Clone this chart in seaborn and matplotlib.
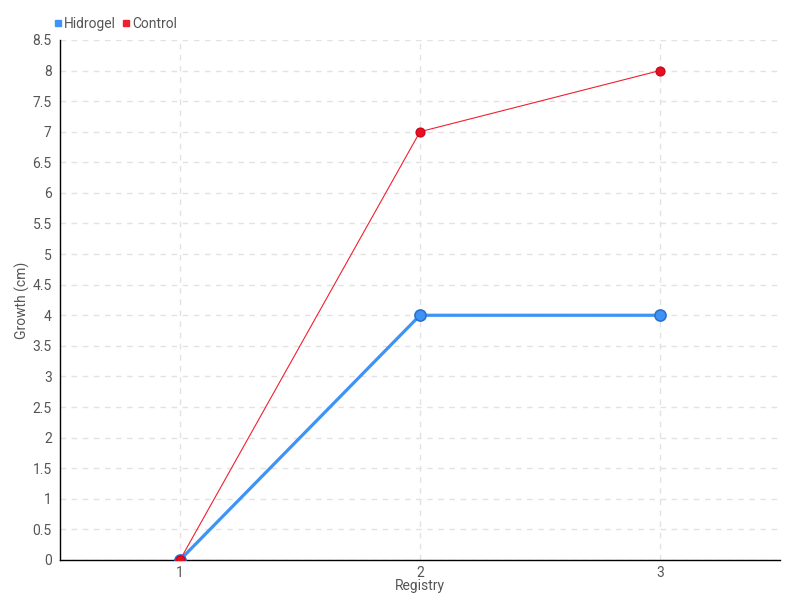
import matplotlib
matplotlib.use("Agg")
import matplotlib.pyplot as plt
import seaborn as sns
import pandas as pd
from matplotlib.lines import Line2D

registry = [1, 2, 3]
hidrogel = [0, 4, 4]
control = [0, 7, 8]
y_ticks = [0, 0.5, 1, 1.5, 2, 2.5, 3, 3.5, 4, 4.5, 5, 5.5, 6, 6.5, 7, 7.5, 8, 8.5]
y_tick_labels = ["0", "0.5", "1", "1.5", "2", "2.5", "3", "3.5", "4", "4.5", "5", "5.5", "6", "6.5", "7", "7.5", "8", "8.5"]

sns.set_style("white")
plt.rcParams['font.family'] = ['Roboto', 'DejaVu Sans']

df = pd.DataFrame({
    "Registry": registry * 2,
    "Growth": hidrogel + control,
    "Series": ["Hidrogel"] * 3 + ["Control"] * 3,
})

fig = plt.figure(figsize=(8, 6), dpi=100)
ax = fig.add_axes([0.075, 0.0667, 0.9, 0.8667])

blue = "#3d94f6"
red = "#f0202f"

sns.lineplot(data=df[df.Series == "Hidrogel"], x="Registry", y="Growth", ax=ax,
             color=blue, linewidth=2.3, marker="o", markersize=8,
             markeredgecolor="#2a72d0", markeredgewidth=1.2, zorder=3)
sns.lineplot(data=df[df.Series == "Control"], x="Registry", y="Growth", ax=ax,
             color=red, linewidth=0.8, marker="o", markersize=6.5,
             markerfacecolor="#e8101f", markeredgecolor="#c8001a", markeredgewidth=0.8, zorder=4)

ax.set_xlim(0.5, 3.5)
ax.set_ylim(0, 8.5)
ax.set_xticks(registry)
ax.set_xticklabels([str(r) for r in registry])
ax.set_yticks(y_ticks)
ax.set_yticklabels(y_tick_labels)

ax.grid(True, color="#e2e2e2", linestyle=(0, (4, 4)), linewidth=1)
ax.set_axisbelow(True)
for s in ["top", "right"]:
    ax.spines[s].set_visible(False)
for s in ["left", "bottom"]:
    ax.spines[s].set_color("black")
    ax.spines[s].set_linewidth(1)

ax.tick_params(axis="both", which="both", length=4, width=1, color="#333333",
               labelsize=10, labelcolor="#555555", direction="out", pad=2)
ax.tick_params(axis="x", pad=0)

ax.set_xlabel("Registry", fontsize=10, color="#555555")
ax.xaxis.set_label_coords(0.5, -0.036)
ax.set_ylabel("Growth (cm)", fontsize=10, color="#555555")
ax.yaxis.set_label_coords(-0.042, 0.5)

handles = [
    Line2D([], [], marker="s", color="none", markerfacecolor=blue, markeredgecolor=blue, markersize=4.5),
    Line2D([], [], marker="s", color="none", markerfacecolor=red, markeredgecolor=red, markersize=4.5),
]
leg = fig.legend(handles, ["Hidrogel", "Control"], loc="upper left",
                 bbox_to_anchor=(0.052, 0.993), ncol=2, frameon=False,
                 handlelength=0.5, handletextpad=0.2, columnspacing=0.5,
                 fontsize=10, labelcolor="#555555")

fig.savefig("out.png", dpi=100)
